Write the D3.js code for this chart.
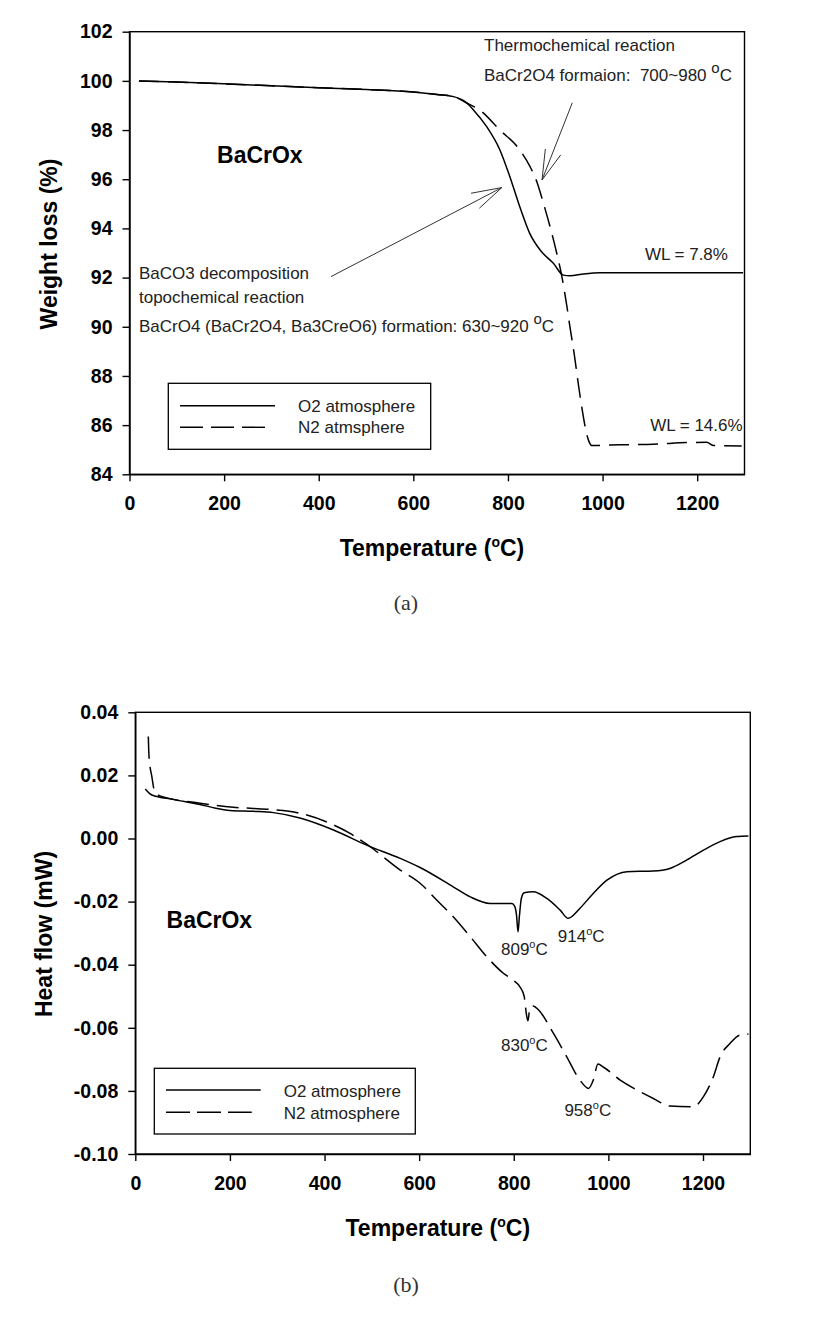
<!DOCTYPE html>
<html><head><meta charset="utf-8">
<script src="https://cdn.jsdelivr.net/npm/d3@7/dist/d3.min.js"></script>
<style>body{margin:0;background:#fff}svg{display:block}text{white-space:pre}</style>
</head><body>
<svg id="c" width="825" height="1323"></svg>
<script>
// ---------- DATA ----------
const xTicks = [0, 200, 400, 600, 800, 1000, 1200];
const tgaYTicks = [84, 86, 88, 90, 92, 94, 96, 98, 100, 102];
const dscYTicks = [-0.10, -0.08, -0.06, -0.04, -0.02, 0.00, 0.02, 0.04];

// (a) TGA, O2 atmosphere
const tgaO2Temp = [20, 100, 200, 300, 400, 500, 600, 650, 685, 710, 727, 755, 783, 804, 825, 846, 868, 896, 917, 931, 960, 995, 1100, 1200, 1297];
const tgaO2Wt   = [100.0, 99.95, 99.88, 99.8, 99.72, 99.65, 99.55, 99.45, 99.36, 99.15, 98.82, 98.14, 97.19, 96.1, 94.88, 93.8, 93.12, 92.58, 92.1, 92.07, 92.15, 92.2, 92.2, 92.2, 92.2];
// (a) TGA, N2 atmosphere
const tgaN2Temp = [20, 100, 200, 300, 400, 500, 600, 650, 685, 713, 741, 783, 825, 847, 861, 875, 889, 903, 914, 924, 931, 940, 950, 958, 966, 972, 977, 1000, 1037, 1107, 1178, 1220, 1234, 1294];
const tgaN2Wt   = [100.0, 99.95, 99.88, 99.8, 99.72, 99.65, 99.55, 99.45, 99.36, 99.1, 98.8, 98.0, 97.19, 96.5, 95.9, 95.02, 94.07, 93.0, 92.04, 90.9, 90.0, 88.9, 87.5, 86.5, 85.67, 85.3, 85.17, 85.18, 85.2, 85.22, 85.29, 85.3, 85.17, 85.15];

// (b) DSC, O2 atmosphere
const dscO2Temp = [21, 35, 80, 137, 170, 200, 250, 292, 348, 419, 489, 560, 602, 672, 708, 750, 796, 802, 806, 809, 812, 816, 822, 841, 870, 898, 915, 940, 968, 997, 1039, 1095, 1130, 1166, 1201, 1236, 1271, 1296];
const dscO2Flow = [0.0157, 0.0138, 0.0124, 0.0108, 0.0096, 0.0089, 0.0086, 0.0082, 0.0065, 0.0027, -0.0021, -0.0063, -0.0092, -0.0153, -0.0185, -0.0206, -0.0206, -0.0215, -0.0245, -0.0296, -0.0245, -0.019, -0.0172, -0.0169, -0.019, -0.0227, -0.0253, -0.0221, -0.0174, -0.0132, -0.0105, -0.0103, -0.0095, -0.0068, -0.0037, -0.001, 0.0006, 0.0008];
// (b) DSC, N2 atmosphere
const dscN2Temp = [27.5, 29, 35, 40, 52, 137, 207, 278, 348, 419, 454, 489, 560, 602, 637, 672, 708, 743, 778, 799, 813, 822, 827, 830, 834, 841, 852, 884, 912, 940, 958, 968, 978, 990, 1025, 1060, 1095, 1130, 1180, 1201, 1222, 1236, 1257, 1278, 1296];
const dscN2Flow = [0.0323, 0.0259, 0.0196, 0.0154, 0.0135, 0.0112, 0.0099, 0.0093, 0.008, 0.0043, 0.0016, -0.0018, -0.01, -0.0142, -0.0195, -0.0248, -0.0311, -0.0375, -0.0427, -0.0449, -0.047, -0.05, -0.056, -0.0578, -0.0538, -0.0531, -0.0543, -0.0618, -0.0692, -0.0766, -0.0792, -0.0766, -0.0715, -0.0725, -0.0766, -0.0797, -0.0824, -0.0848, -0.085, -0.0818, -0.0755, -0.0692, -0.065, -0.0623, -0.062];

const legendLabelsA = ["O2 atmosphere", "N2 atmsphere"];
const legendLabelsB = ["O2 atmosphere", "N2 atmosphere"];

// ---------- DRAW ----------
const svg = d3.select('#c');
svg.append('rect').attr('width', 825).attr('height', 1323).attr('fill', '#fff');
const SANS = "'Liberation Sans', Arial, sans-serif";

function zip(a, b) { return a.map((v, i) => [v, b[i]]); }

function panel(o) {
  const x = d3.scaleLinear().domain([0, 1300]).range([o.left, o.right]);
  const y = d3.scaleLinear().domain(o.yDomain).range([o.bottom, o.top]);
  const g = svg.append('g');

  g.append('rect').attr('x', o.left).attr('y', o.top)
    .attr('width', o.right - o.left).attr('height', o.bottom - o.top)
    .attr('fill', 'none').attr('stroke', '#000').attr('stroke-width', 1.4);

  const xa = g.append('g').attr('transform', `translate(0,${o.bottom})`)
    .call(d3.axisBottom(x).tickValues(xTicks).tickSize(7).tickSizeOuter(0).tickPadding(15).tickFormat(d3.format('d')));
  const ya = g.append('g').attr('transform', `translate(${o.left},0)`)
    .call(d3.axisLeft(y).tickValues(o.yTicks).tickSize(7).tickSizeOuter(0).tickPadding(10).tickFormat(o.yFormat));
  [xa, ya].forEach(a => {
    a.select('.domain').attr('stroke', '#000').attr('stroke-width', 1.4);
    a.selectAll('.tick line').attr('stroke', '#000').attr('stroke-width', 1.4);
    a.selectAll('.tick text').attr('fill', '#000').attr('font-family', SANS)
      .attr('font-weight', 'bold').attr('font-size', '19.5px');
  });

  const line = d3.line().x(d => x(d[0])).y(d => y(d[1])).curve(d3.curveMonotoneX);
  o.series.forEach(s => {
    g.append('path').datum(zip(s.t, s.v)).attr('d', line)
      .attr('fill', 'none').attr('stroke', '#000').attr('stroke-width', 1.5)
      .attr('stroke-dasharray', s.dash || null);
  });

  const xt = g.append('text').attr('x', (o.left + o.right) / 2 - 5).attr('y', o.xTitleY)
    .attr('text-anchor', 'middle').attr('font-family', SANS).attr('font-weight', 'bold')
    .attr('font-size', '23px').attr('fill', '#000');
  xt.append('tspan').text('Temperature (');
  xt.append('tspan').attr('font-size', '14px').attr('dy', -9).text('o');
  xt.append('tspan').attr('dy', 9).text('C)');

  g.append('text').attr('transform', `translate(${o.yTitleX},${o.yTitleY}) rotate(-90)`)
    .attr('text-anchor', 'middle').attr('font-family', SANS).attr('font-weight', 'bold')
    .attr('font-size', '23px').attr('fill', '#000').text(o.yTitle);

  const L = o.legend;
  g.append('rect').attr('x', L.x0).attr('y', L.y0).attr('width', L.x1 - L.x0).attr('height', L.y1 - L.y0)
    .attr('fill', '#fff').attr('stroke', '#000').attr('stroke-width', 1.3);
  L.items.forEach(it => {
    g.append('line').attr('x1', L.lx0).attr('x2', it.lx1).attr('y1', it.ly).attr('y2', it.ly)
      .attr('stroke', '#000').attr('stroke-width', 1.4).attr('stroke-dasharray', it.dash || null);
    g.append('text').attr('x', L.tx).attr('y', it.ty).attr('font-family', SANS)
      .attr('font-size', '17px').attr('fill', '#222').text(it.label);
  });

  g.append('text').attr('x', x(o.name[0])).attr('y', y(o.name[1])).attr('font-family', SANS)
    .attr('font-weight', 'bold').attr('font-size', '23px').attr('fill', '#000').text('BaCrOx');

  g.append('text').attr('x', 406).attr('y', o.captionY).attr('text-anchor', 'middle')
    .attr('font-family', "'Liberation Serif', 'DejaVu Serif', serif").attr('font-size', '22px')
    .attr('fill', '#333').text(o.caption);

  return { g, x, y };
}

function annot(g, px, py, parts, anchor, size) {
  const t = g.append('text').attr('x', px).attr('y', py).attr('font-family', SANS)
    .attr('font-size', (size || 17) + 'px').attr('fill', '#222').attr('text-anchor', anchor || 'start');
  parts.forEach(p => {
    const s = t.append('tspan').text(p.s);
    if (p.sup) s.attr('font-size', p.sup.size + 'px').attr('dy', -p.sup.rise);
    if (p.down) s.attr('dy', p.down);
  });
  return t;
}

// ---- panel (a)
const A = panel({
  left: 129.5, right: 744.5, top: 31.7, bottom: 474.3,
  yDomain: [84, 102], yTicks: tgaYTicks, yFormat: d3.format('d'),
  xTitleY: 556, yTitleX: 57, yTitleY: 244, yTitle: 'Weight loss (%)',
  series: [
    { t: tgaO2Temp, v: tgaO2Wt },
    { t: tgaN2Temp, v: tgaN2Wt, dash: '20,9' }
  ],
  legend: { x0: 168.3, x1: 430.7, y0: 383.3, y1: 449.3, lx0: 180, tx: 298,
    items: [ { label: legendLabelsA[0], lx1: 275, ly: 405.7, ty: 412 },
             { label: legendLabelsA[1], lx1: 266, ly: 427.3, ty: 433, dash: '23,8' } ] },
  name: [185, 96.66], caption: '(a)', captionY: 610
});
{
  const { g, x, y } = A;
  annot(g, x(749.4), y(101.22), [{ s: 'Thermochemical reaction' }]);
  annot(g, x(749.4), y(100.0), [{ s: 'BaCr2O4 formaion:  700~980 ' }, { s: 'o', sup: { size: 15, rise: 8 } }, { s: 'C', down: 8 }]);
  annot(g, x(20), y(91.94), [{ s: 'BaCO3 decomposition' }]);
  annot(g, x(20), y(90.97), [{ s: 'topochemical reaction' }]);
  annot(g, x(20), y(89.79), [{ s: 'BaCrO4 (BaCr2O4, Ba3CreO6) formation: 630~920 ' }, { s: 'o', sup: { size: 15, rise: 8 } }, { s: 'C', down: 8 }]);
  annot(g, x(1265), y(92.72), [{ s: 'WL = 7.8%' }], 'end');
  annot(g, x(1296), y(85.76), [{ s: 'WL = 14.6%' }], 'end');
  const arrows = [
    { from: [426, 92.04], tip: [787, 95.66], h1: [722, 95.43], h2: [739.5, 94.82] },
    { from: [936, 99.11], tip: [872, 95.97], h1: [879, 97.23], h2: [911.5, 96.99] }
  ];
  arrows.forEach(a => {
    [a.from, a.h1, a.h2].forEach(p => {
      g.append('line').attr('x1', x(p[0])).attr('y1', y(p[1])).attr('x2', x(a.tip[0])).attr('y2', y(a.tip[1]))
        .attr('stroke', '#333').attr('stroke-width', 1);
    });
  });
}

// ---- panel (b)
const B = panel({
  left: 135.3, right: 750.3, top: 712.3, bottom: 1154,
  yDomain: [-0.10, 0.04], yTicks: dscYTicks, yFormat: d => (Math.abs(d) < 1e-9 ? 0 : d).toFixed(2),
  xTitleY: 1236, yTitleX: 52, yTitleY: 934, yTitle: 'Heat flow (mW)',
  series: [
    { t: dscO2Temp, v: dscO2Flow },
    { t: dscN2Temp, v: dscN2Flow, dash: '22,8' }
  ],
  legend: { x0: 154.3, x1: 415.3, y0: 1068.3, y1: 1134, lx0: 166, tx: 283.7,
    items: [ { label: legendLabelsB[0], lx1: 260.7, ly: 1090, ty: 1096.7 },
             { label: legendLabelsB[1], lx1: 251.7, ly: 1112.3, ty: 1118.7, dash: '24,7' } ] },
  name: [66, -0.0284], caption: '(b)', captionY: 1292
});
{
  const { g, x, y } = B;
  const peaks = [ [773, -0.0369, '809'], [893, -0.0328, '914'], [773, -0.0673, '830'], [907, -0.0879, '958'] ];
  peaks.forEach(p => {
    annot(g, x(p[0]), y(p[1]), [{ s: p[2] }, { s: 'o', sup: { size: 11, rise: 7 } }, { s: 'C', down: 7 }]);
  });
}
</script>
</body></html>
